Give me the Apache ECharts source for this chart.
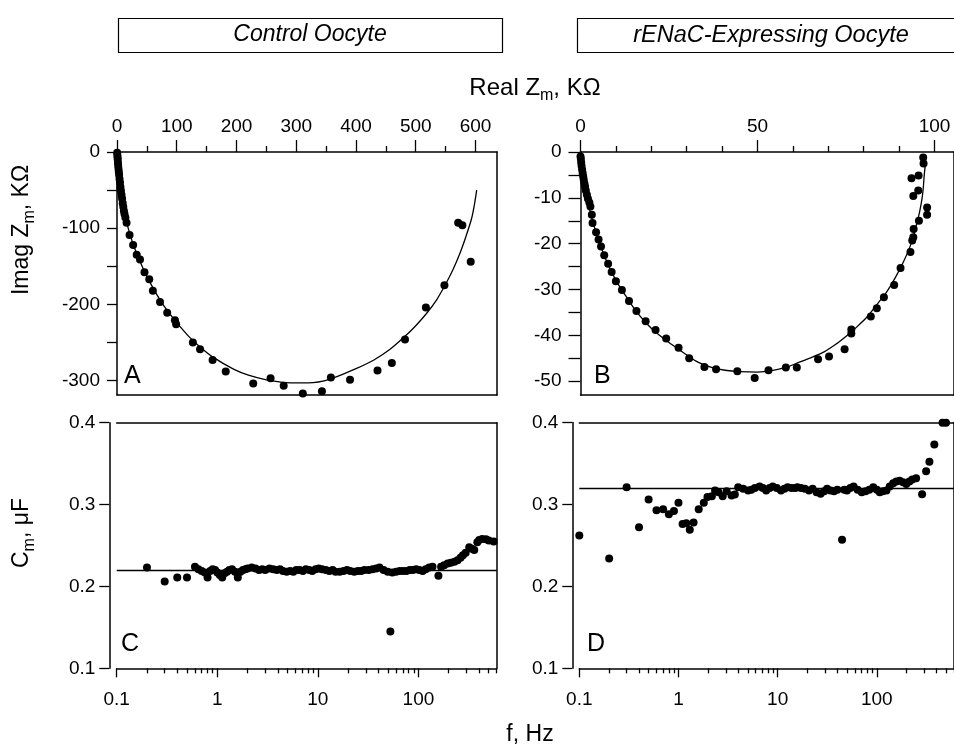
<!DOCTYPE html>
<html><head><meta charset="utf-8">
<script src="https://cdn.jsdelivr.net/npm/echarts@6/dist/echarts.min.js"></script>
<style>html,body{margin:0;padding:0;background:#fff}#c{width:954px;height:748px}</style>
</head><body><div id="c"></div>
<script>
// ---------- DATA ----------
// Panel A: control oocyte, Nyquist (Real Zm, Imag Zm) in kOhm
const aPoints = [
 [0.3,-1],[0.6,-4],[0.9,-7],[1.2,-10],[1.6,-14],[2,-18],[2.5,-22],[3,-26],[3.5,-30],[4.2,-35],
 [5,-40],[5.8,-46],[6.6,-51],[7.5,-56],[8.5,-61],[9.5,-67],[10.5,-72],[11.5,-77],[12.5,-81],[14,-86],
 [16,-93],[21,-109],[27,-122],[33,-135],[38.5,-141],[46,-158],[54,-167],[60,-182],[72,-197],[84,-211],
 [97,-221],[99,-226],[127,-250],[139,-259],[160,-273],[182,-288],[228,-304],[257,-297],[279,-307],
 [311,-317],[343,-314],[358,-296],[390,-299],[436,-287],[460,-277],[482,-246],[517,-204],[548,-175],
 [571,-93],[578,-96],[592,-144]
];
const aFit = [
 [0,0],[1,-8],[2,-18],[3,-27],[4,-35],[5,-42],[7,-53],[9,-63],[11,-73],[14,-85],[17,-95],[21,-106],
 [27,-121],[35,-137],[46,-157],[60,-178],[72,-194],[84,-208],[100,-224],[120,-242],[139,-256],
 [160,-269],[195,-285],[220,-293],[250,-299],[290,-303],[320,-303],[357,-298],[401,-284],[430,-273],
 [457,-259],[482,-242],[500,-228],[518,-212],[535,-194],[549,-175],[562,-155],[574,-133],[584,-111],
 [593.6,-87],[598,-70],[602,-50]
];
// Panel B: rENaC-expressing oocyte, Nyquist
const bPoints = [
 [0,-1],[0.1,-1.5],[0.2,-2.3],[0.3,-3],[0.45,-3.8],[0.6,-4.6],[0.75,-5.3],[0.9,-6],[1.1,-6.8],[1.3,-7.6],
 [1.5,-8.4],[1.8,-9.3],[2.1,-10.2],[2.5,-11],[2.8,-11.9],[3.2,-13.7],[3.4,-15.5],[4.4,-17.5],[5.1,-19.1],
 [5.8,-20.6],[6.7,-22.5],[7.8,-24.4],[8.8,-26.2],[10,-28.2],[11.7,-30.1],[13.7,-32.5],[15.8,-34.7],
 [18.4,-36.9],[21.2,-38.8],[24.2,-40.7],[27.7,-42.7],[30.7,-45],[35,-46.9],[38.3,-47.4],[44.3,-47.8],
 [49.2,-49.3],[53.1,-47.6],[58,-47],[61.1,-47],[67.1,-45.2],[70.2,-44.6],[74.6,-43],[76.5,-39.6],
 [76.5,-38.7],[82,-35.9],[83.7,-34.1],[85.7,-31.7],[88.6,-29],[90.4,-25.3],[93.2,-21.8],[93.7,-19.3],
 [94,-18.6],[94.1,-16.8],[95.6,-15],[97.9,-13.7],[97.9,-12.1],[94,-9.6],[95.4,-8.4],[93.5,-5.7],
 [95.5,-5.1],[96.9,-2.5],[96.8,-1.2]
];
const bFit = [
 [0,0],[0.2,-1],[0.5,-3],[0.9,-5.5],[1.6,-9],[2.4,-12],[3.4,-15],[5,-19],[7.2,-23.5],[10,-28],
 [12.8,-31.4],[15.5,-34.5],[18.4,-37.2],[21.5,-39.5],[25.8,-42],[29.5,-44],[33.3,-45.9],[37,-47],
 [40.8,-47.6],[45,-47.9],[50,-48],[54,-47.7],[58,-47],[61.3,-46],[65,-44.9],[68.8,-43.6],[72,-42],
 [75.3,-40],[78,-38.2],[80.9,-36],[84,-33],[86.5,-30.5],[89,-27.3],[91.2,-24],[93,-20.8],[94,-18.5],
 [95,-15.5],[95.8,-13],[96.5,-10],[96.8,-8],[97.1,-5],[97.4,-2.8]
];
// Panel C: control oocyte, Cm (uF) vs f (Hz)
const cFreq = [0.2,0.3,0.4,0.5,0.6,0.65,0.7,0.75,0.8,0.85,0.9,0.95,1.0,1.06,1.12,1.18,1.25,1.32,1.4,1.5,
 1.6,1.7,1.8,1.9,2.0,2.2,2.4,2.6,2.8,3.0,3.3,3.6,3.9,4.2,4.5,4.9,5.3,5.7,6.1,6.6,7.1,7.6,8.2,8.8,9.5,
 10.2,11,12,13,14,15,16.5,18,19.5,21,23,25,27,29,32,35,38,41,45,49.5,52.6,55,60,65,70,76,82,88,95,102,
 110,118,128,138,158,168,180,195,210,228,245,262,277,295,320,340,359,385,402,430,469,500,560];
const cCap = [0.223,0.206,0.211,0.211,0.224,0.221,0.219,0.217,0.211,0.219,0.221,0.220,0.217,0.214,0.211,
 0.216,0.218,0.220,0.221,0.218,0.211,0.218,0.220,0.221,0.222,0.223,0.222,0.220,0.221,0.220,0.222,0.221,
 0.220,0.221,0.219,0.218,0.219,0.218,0.220,0.220,0.219,0.221,0.220,0.219,0.221,0.222,0.221,0.220,0.219,
 0.220,0.218,0.218,0.219,0.220,0.219,0.218,0.219,0.219,0.220,0.220,0.221,0.222,0.223,0.220,0.218,0.145,
 0.217,0.218,0.219,0.219,0.219,0.220,0.220,0.221,0.220,0.219,0.221,0.223,0.224,0.213,0.224,0.226,0.228,
 0.229,0.230,0.232,0.235,0.238,0.241,0.248,0.246,0.2445,0.254,0.2567,0.258,0.2575,0.256,0.255];
const cFit = 0.22;
// Panel D: rENaC oocyte, Cm vs f
const dFreq = [0.1,0.2,0.3,0.4,0.5,0.6,0.7,0.8,0.9,1.0,1.1,1.2,1.3,1.42,1.6,1.8,1.96,2.17,2.34,2.53,2.79,
 3.06,3.43,3.7,4.0,4.49,5.04,5.43,5.9,6.58,7.1,7.66,8.3,8.93,9.8,10.8,11.7,12.6,13.8,15.0,15.8,17.2,18.8,
 20.7,22.5,24.7,27.1,29.5,31.5,34.1,37,40,44.6,47,50,54,58.3,64,70.5,77,84,92,100,107,115,125,135,146,
 157,170,184,198,213,228,249,286,314,339,380,460,498];
const dCap = [0.262,0.234,0.321,0.272,0.306,0.293,0.294,0.288,0.292,0.302,0.276,0.277,0.269,0.278,0.294,
 0.302,0.309,0.310,0.317,0.315,0.310,0.316,0.311,0.312,0.321,0.319,0.317,0.318,0.320,0.322,0.320,0.317,
 0.320,0.322,0.320,0.317,0.319,0.321,0.320,0.320,0.321,0.320,0.319,0.317,0.319,0.315,0.313,0.316,0.319,
 0.317,0.316,0.318,0.257,0.318,0.317,0.320,0.322,0.318,0.315,0.316,0.318,0.321,0.318,0.315,0.316,0.317,
 0.322,0.326,0.328,0.329,0.327,0.325,0.328,0.3305,0.332,0.3125,0.3406,0.352,0.373,0.3996,0.3996];
const dFit = 0.32;
// Ticks
const aXTicks = [0,100,200,300,400,500,600];
const aXMinor = [50,150,250,350,450,550];
const aYTicks = [0,-50,-100,-150,-200,-250,-300];
const aYLabels = [0,-100,-200,-300];
const bXTicks = [0,50,100];
const bXMinor = [10,20,30,40,60,70,80,90];
const bYTicks = [0,-5,-10,-15,-20,-25,-30,-35,-40,-45,-50];
const bYLabels = [0,-10,-20,-30,-40,-50];
const fTicks = [0.1,1,10,100];
const fMinor = [0.2,0.3,0.4,0.5,0.6,0.7,0.8,0.9,2,3,4,5,6,7,8,9,20,30,40,50,60,70,80,90,200,300,400,500,600];
const cmTicks = [0.1,0.2,0.3,0.4];

// ---------- CHART ----------
const K = '#000';
const FONT = 'Liberation Sans';
const tickFont = {fontFamily: FONT, fontSize: 19, color: K};
const lineS = {color: K, width: 1.5};
const tickS = {color: K, width: 1.3};

function mainAx(grid, type, pos, min, max, ticks, labels, len, margin, fmt, offset) {
  const o = {gridIndex: grid, type: type, position: pos, min: min, max: max, offset: offset || 0,
    axisLine: {show: true, onZero: false, lineStyle: lineS},
    axisTick: {show: true, inside: false, length: len, lineStyle: tickS, customValues: ticks},
    axisLabel: Object.assign({show: true, margin: margin, customValues: labels}, tickFont),
    splitLine: {show: false}, minorTick: {show: false}};
  if (type === 'log') o.logBase = 10;
  if (fmt) o.axisLabel.formatter = fmt;
  return o;
}
function minorAx(grid, type, pos, min, max, ticks, len) {
  const o = {gridIndex: grid, type: type, position: pos, min: min, max: max,
    axisLine: {show: false}, axisTick: {show: true, inside: false, length: len, lineStyle: tickS, customValues: ticks},
    axisLabel: {show: false}, splitLine: {show: false}};
  if (type === 'log') o.logBase = 10;
  return o;
}
function borderAx(grid, type, pos, min, max) {
  const o = {gridIndex: grid, type: type, position: pos, min: min, max: max,
    axisLine: {show: true, onZero: false, lineStyle: lineS}, axisTick: {show: false},
    axisLabel: {show: false}, splitLine: {show: false}};
  if (type === 'log') o.logBase = 10;
  return o;
}
const fmtF = v => String(v);
const fmt1 = v => Number(v).toFixed(1);

const aXMax = 636, aYMin = -319, bXMax = 105.5, bYMin = -53;

const xAxis = [
  mainAx(0, 'value', 'top', 0, aXMax, aXTicks, aXTicks, 12, 16),       // 0
  minorAx(0, 'value', 'top', 0, aXMax, aXMinor, 6),                    // 1
  borderAx(0, 'value', 'bottom', 0, aXMax),                            // 2
  mainAx(1, 'value', 'top', 0, bXMax, bXTicks, bXTicks, 12, 16),       // 3
  minorAx(1, 'value', 'top', 0, bXMax, bXMinor, 6),                    // 4
  borderAx(1, 'value', 'bottom', 0, bXMax),                            // 5
  mainAx(2, 'log', 'bottom', 0.1, 600, fTicks, fTicks, 9, 22, fmtF),   // 6
  minorAx(2, 'log', 'bottom', 0.1, 600, fMinor, 5),                    // 7
  borderAx(2, 'log', 'top', 0.1, 600),                                 // 8
  mainAx(3, 'log', 'bottom', 0.1, 600, fTicks, fTicks, 9, 22, fmtF),   // 9
  minorAx(3, 'log', 'bottom', 0.1, 600, fMinor, 5),                    // 10
  borderAx(3, 'log', 'top', 0.1, 600)                                  // 11
];
const yAxis = [
  mainAx(0, 'value', 'left', aYMin, 0, aYTicks, aYLabels, 10, 17),     // 0
  borderAx(0, 'value', 'right', aYMin, 0),                             // 1
  mainAx(1, 'value', 'left', bYMin, 0, bYTicks, bYLabels, 12, 19),     // 2
  borderAx(1, 'value', 'right', bYMin, 0),                             // 3
  mainAx(2, 'value', 'left', 0.1, 0.4, cmTicks, cmTicks, 10, 14, fmt1, 7.4), // 4
  borderAx(2, 'value', 'right', 0.1, 0.4),                             // 5
  mainAx(3, 'value', 'left', 0.1, 0.4, cmTicks, cmTicks, 10, 14, fmt1, 7),   // 6
  borderAx(3, 'value', 'right', 0.1, 0.4)                              // 7
];

const dot = {symbol: 'circle', symbolSize: 8, itemStyle: {color: K, opacity: 1}};
const fitLine = {type: 'line', showSymbol: false, symbol: 'none', smooth: 0.3,
  lineStyle: {color: K, width: 1.3}, silent: true};
function hLine(v) {
  return {symbol: 'none', silent: true, label: {show: false},
    lineStyle: {color: K, width: 1.3, type: 'solid', opacity: 1}, data: [{yAxis: v}]};
}

const series = [
  Object.assign({type: 'line', xAxisIndex: 0, yAxisIndex: 0, data: aFit}, fitLine),
  Object.assign({type: 'scatter', xAxisIndex: 0, yAxisIndex: 0, data: aPoints}, dot),
  Object.assign({type: 'line', xAxisIndex: 3, yAxisIndex: 2, data: bFit}, fitLine),
  Object.assign({type: 'scatter', xAxisIndex: 3, yAxisIndex: 2, data: bPoints}, dot),
  Object.assign({type: 'scatter', xAxisIndex: 6, yAxisIndex: 4,
    data: cFreq.map((f, i) => [f, cCap[i]]), markLine: hLine(cFit)}, dot),
  Object.assign({type: 'scatter', xAxisIndex: 9, yAxisIndex: 6,
    data: dFreq.map((f, i) => [f, dCap[i]]), markLine: hLine(dFit)}, dot)
];

function sub(main, s, rest, size) {
  return {
    text: '{n|' + main + '}{s|' + s + '}{n|' + rest + '}',
    rich: {
      n: {fontFamily: FONT, fontSize: size, color: K, lineHeight: 32, verticalAlign: 'middle'},
      s: {fontFamily: FONT, fontSize: Math.round(size * 0.68), color: K, lineHeight: 32, verticalAlign: 'bottom'}
    }
  };
}
function letter(t, x, y) {
  return {type: 'text', left: x, top: y, style: {text: t, fontFamily: FONT, fontSize: 25, fill: K}};
}

const graphic = [
  {type: 'rect', shape: {x: 118.5, y: 18.5, width: 384, height: 34}, style: {fill: 'none', stroke: K, lineWidth: 1.2}},
  {type: 'text', x: 310, y: 35, style: {text: 'Control Oocyte', fontFamily: FONT, fontSize: 23, fontStyle: 'italic',
    fill: K, align: 'center', verticalAlign: 'middle'}},
  {type: 'rect', shape: {x: 577.5, y: 18.5, width: 420, height: 34}, style: {fill: 'none', stroke: K, lineWidth: 1.2}},
  {type: 'text', x: 771, y: 35, style: {text: 'rENaC-Expressing Oocyte', fontFamily: FONT, fontSize: 23.5, fontStyle: 'italic',
    fill: K, align: 'center', verticalAlign: 'middle'}},
  {type: 'text', x: 535, y: 88, style: Object.assign(sub('Real Z', 'm', ', KΩ', 24), {align: 'center', verticalAlign: 'middle'})},
  {type: 'text', x: 22, y: 230, rotation: Math.PI / 2, style: Object.assign(sub('Imag Z', 'm', ', KΩ', 23), {align: 'center', verticalAlign: 'middle'})},
  {type: 'text', x: 22, y: 533, rotation: Math.PI / 2, style: Object.assign(sub('C', 'm', ', μF', 23), {align: 'center', verticalAlign: 'middle'})},
  {type: 'text', x: 530, y: 735, style: {text: 'f, Hz', fontFamily: FONT, fontSize: 23, fill: K, align: 'center', verticalAlign: 'middle'}},
  letter('A', 124, 364), letter('B', 594, 364), letter('C', 121, 632), letter('D', 587, 632)
];

const chart = echarts.init(document.getElementById('c'), null, {renderer: 'canvas'});
chart.setOption({
  animation: false,
  backgroundColor: '#fff',
  grid: [
    {left: 117, top: 152, width: 380, height: 243},
    {left: 580.5, top: 152, width: 377.5, height: 243},
    {left: 116.7, top: 422.7, width: 380, height: 245.6},
    {left: 579.3, top: 422.5, width: 378.7, height: 245.8}
  ],
  xAxis: xAxis,
  yAxis: yAxis,
  series: series,
  graphic: graphic
});
</script></body></html>
